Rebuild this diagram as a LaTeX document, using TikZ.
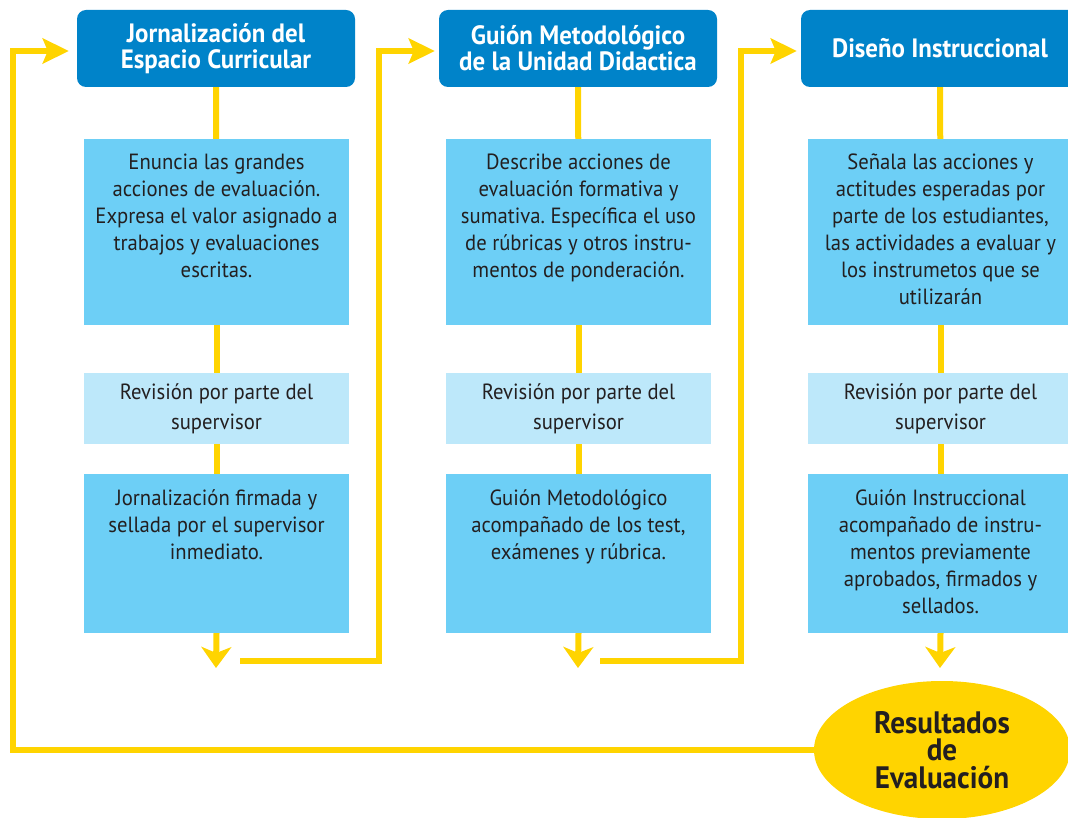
\documentclass[tikz,border=0pt]{standalone}
\usepackage{fontspec}
\setmainfont{PT Sans}[FakeStretch=0.94]
\usetikzlibrary{arrows.meta,shapes.geometric}
\definecolor{hdr}{HTML}{0083C9}
\definecolor{cyanb}{HTML}{6DCFF6}
\definecolor{lightb}{HTML}{BDE8FA}
\definecolor{yel}{HTML}{FFD400}
\definecolor{ink}{HTML}{231F20}
\frenchspacing
\newcommand\topbox[2]{\parbox[c][#1][t]{265pt}{\centering\rule{0pt}{31pt}#2}}
\newcommand\midbox[2]{\parbox[c][#1][c]{265pt}{\centering #2}}
\begin{document}
\begin{tikzpicture}[x=1pt,y=-1pt,
  hdrbox/.style={fill=hdr, rounded corners=9pt, minimum width=278pt, minimum height=77pt,
    inner sep=0pt, text=white, align=center, font=\fontsize{26.5}{26}\selectfont\bfseries},
  mainbox/.style={fill=cyanb, inner sep=0pt, text=ink, font=\fontsize{22}{27}\selectfont},
  revbox/.style={fill=lightb, inner sep=0pt, text=ink, font=\fontsize{22}{30}\selectfont},
  resbox/.style={ellipse, fill=yel, minimum width=256pt, minimum height=138pt, inner sep=0pt,
    align=center, text=ink, font=\fontsize{31}{27.5}\selectfont\bfseries},
  flow/.style={draw=yel, line width=6pt},
  tipdown/.style={-{Stealth[length=21pt,width=30pt,inset=6pt]}},
  tipright/.style={-{Stealth[length=26pt,width=25pt,inset=5pt]}},
]
\clip (0,0) rectangle (1068,818);
\fill[white] (0,0) rectangle (1068,818);

% headers
\node[hdrbox] (h1) at (216,48.5) {Jornalización del\\Espacio Curricular};
\node[hdrbox] (h2) at (578,48.5) {Guión Metodológico\\de la Unidad Didactica};
\node[hdrbox] (h3) at (940,48.5) {Diseño Instruccional};

% column 1
\node[mainbox] (a1) at (216.5,232) {\topbox{186pt}{Enuncia las grandes\\acciones de evaluación.\\Expresa el valor asignado a\\trabajos y evaluaciones\\escritas.}};
\node[revbox] (r1) at (216.5,408.5) {\midbox{71pt}{Revisión por parte del\\supervisor}};
\node[mainbox] (b1) at (216.5,553.5) {\topbox{159pt}{Jornalización firmada y\\sellada por el supervisor\\inmediato.}};

% column 2
\node[mainbox] (a2) at (578.5,232) {\topbox{186pt}{Describe acciones de\\evaluación formativa y\\sumativa. Específica el uso\\de rúbricas y otros instru-\\mentos de ponderación.}};
\node[revbox] (r2) at (578.5,408.5) {\midbox{71pt}{Revisión por parte del\\supervisor}};
\node[mainbox] (b2) at (578.5,553.5) {\topbox{159pt}{Guión Metodológico\\acompañado de los test,\\exámenes y rúbrica.}};

% column 3
\node[mainbox] (a3) at (940.5,232) {\topbox{186pt}{Señala las acciones y\\actitudes esperadas por\\parte de los estudiantes,\\las actividades a evaluar y\\los instrumetos que se\\utilizarán}};
\node[revbox] (r3) at (940.5,408.5) {\midbox{71pt}{Revisión por parte del\\supervisor}};
\node[mainbox] (b3) at (940.5,553.5) {\topbox{159pt}{Guión Instruccional\\acompañado de instru-\\mentos previamente\\aprobados, firmados y\\sellados.}};

% result
\node[resbox] (e) at (942,750) {Resultados\\de\\Evaluación};

% helper coordinates
\coordinate (d1) at (216,668);
\coordinate (d2) at (578,668);
\coordinate (d3) at (940,668);
\coordinate (s1) at (240,661);
\coordinate (s2) at (600,661);
\coordinate (k0) at (12.5,51);
\coordinate (k1) at (379,51);
\coordinate (k2) at (741,51);

% vertical connectors
\foreach \i in {1,2,3}{
  \draw[flow] (h\i) -- (a\i);
  \draw[flow] (a\i) -- (r\i);
  \draw[flow] (r\i) -- (b\i);
  \draw[flow,tipdown] (b\i.south) -- (d\i);
}

% cross connectors
\draw[flow,tipright,shorten >=4pt] (s1) -| (k1) -- (h2.west |- k1);
\draw[flow,tipright,shorten >=4pt] (s2) -| (k2) -- (h3.west |- k2);
\draw[flow,tipright,shorten >=8pt] (e.west) -| (k0) -- (h1.west |- k0);
\end{tikzpicture}
\end{document}
